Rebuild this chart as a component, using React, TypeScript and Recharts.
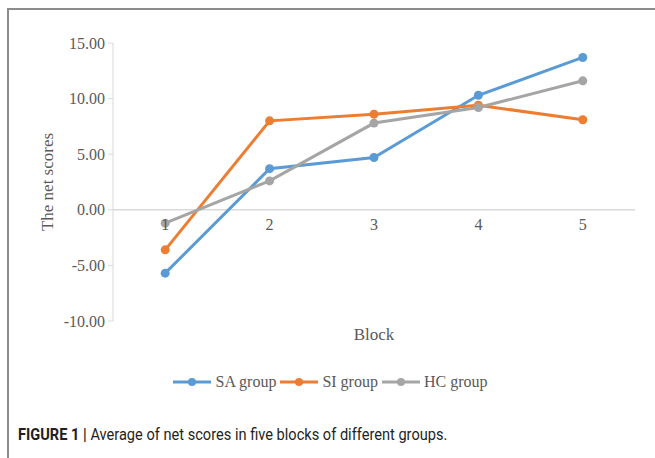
import {
  LineChart,
  Line,
  XAxis,
  YAxis,
  Legend,
  ReferenceLine,
  ReferenceDot,
} from "recharts";

const blocks = ["1", "2", "3", "4", "5"];
const saGroup = [-5.7, 3.7, 4.7, 10.3, 13.7];
const siGroup = [-3.6, 8.0, 8.6, 9.4, 8.1];
const hcGroup = [-1.2, 2.6, 7.8, 9.2, 11.6];
const yTicks = [-10, -5, 0, 5, 10, 15];

const series = [
  { key: "sa", name: "SA group", color: "#5b9bd5" },
  { key: "si", name: "SI group", color: "#ed7d31" },
  { key: "hc", name: "HC group", color: "#a5a5a5" },
];

const data = blocks.map((block, i) => ({
  block,
  sa: saGroup[i],
  si: siGroup[i],
  hc: hcGroup[i],
}));

const serif = "'Liberation Serif', 'Times New Roman', serif";
const textColor = "#595959";
const axisColor = "#d9d9d9";

function LegendContent() {
  return (
    <div
      style={{
        height: 24,
        display: "flex",
        justifyContent: "center",
        alignItems: "center",
        paddingRight: 18,
        fontFamily: serif,
        fontSize: 16,
        color: textColor,
      }}
    >
      {series.map((s) => (
        <div key={s.key} style={{ display: "flex", alignItems: "center" }}>
          <svg width={38} height={10} style={{ display: "block" }}>
            <line x1={0} y1={5} x2={38} y2={5} stroke={s.color} strokeWidth={3} />
            <circle cx={19} cy={5} r={4} fill={s.color} />
          </svg>
          <span style={{ marginLeft: 4, marginRight: 4 }}>{s.name}</span>
        </div>
      ))}
    </div>
  );
}

export default function App() {
  return (
    <div
      style={{
        position: "absolute",
        left: 0,
        top: 0,
        width: 655,
        height: 458,
        overflow: "hidden",
        background: "#fff",
      }}
    >
      <div
        style={{
          position: "absolute",
          left: 7,
          top: 8,
          width: 700,
          height: 500,
          borderLeft: "2px solid #8c8c8c",
          borderTop: "2px solid #8c8c8c",
        }}
      />
      <div style={{ position: "absolute", left: 0, top: 0 }}>
        <LineChart
          width={655}
          height={400}
          data={data}
          margin={{ top: 43, right: 20, left: 48, bottom: 6 }}
        >
          <XAxis
            dataKey="block"
            scale="band"
            height={49}
            tick={false}
            tickLine={false}
            axisLine={false}
            label={{
              value: "Block",
              position: "insideTop",
              offset: 7,
              fill: textColor,
              fontFamily: serif,
              fontSize: 17,
            }}
          />
          <YAxis
            width={65}
            domain={[-10, 15]}
            ticks={yTicks}
            tickFormatter={(v) => Number(v).toFixed(2)}
            tick={{ fill: textColor, fontFamily: serif, fontSize: 16 }}
            tickSize={5}
            tickMargin={3}
            stroke={axisColor}
            label={{
              content: () => (
                <text
                  x={47}
                  y={182}
                  transform="rotate(-90 47 182)"
                  textAnchor="middle"
                  dominantBaseline="central"
                  fill={textColor}
                  fontFamily={serif}
                  fontSize={17}
                >
                  The net scores
                </text>
              ),
            }}
          />
          <ReferenceLine y={0} stroke={axisColor} strokeWidth={1.5} />
          {blocks.map((b) => (
            <ReferenceDot
              key={b}
              x={b}
              y={0}
              r={0}
              fill="none"
              stroke="none"
              label={{
                value: b,
                position: "bottom",
                offset: 9,
                fill: textColor,
                fontFamily: serif,
                fontSize: 16,
              }}
            />
          ))}
          <Legend verticalAlign="bottom" content={() => <LegendContent />} />
          {series.map((s) => (
            <Line
              key={s.key}
              type="linear"
              dataKey={s.key}
              name={s.name}
              stroke={s.color}
              strokeWidth={3}
              dot={{ r: 4.5, fill: s.color, stroke: s.color, strokeWidth: 0 }}
              isAnimationActive={false}
            />
          ))}
        </LineChart>
      </div>
      <div
        style={{
          position: "absolute",
          left: 18,
          top: 425,
          fontFamily: "Roboto, 'Liberation Sans', sans-serif",
          fontSize: 16.5,
          color: "#231f20",
          whiteSpace: "nowrap",
          transform: "scaleX(0.885)",
          transformOrigin: "left center",
        }}
      >
        <b>FIGURE 1 |</b> Average of net scores in five blocks of different groups.
      </div>
    </div>
  );
}
